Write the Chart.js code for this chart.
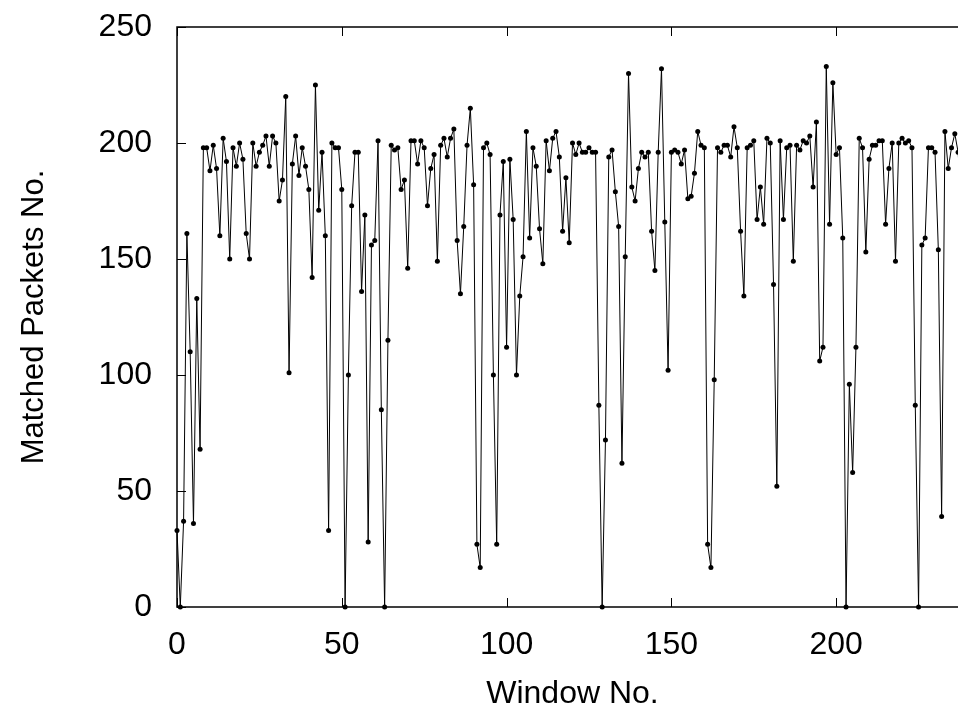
<!DOCTYPE html>
<html>
<head>
<meta charset="utf-8">
<script src="https://cdn.jsdelivr.net/npm/chart.js@4.4.1/dist/chart.umd.min.js"></script>
<style>
  html, body { margin: 0; padding: 0; background: #fff; overflow: hidden; }
  /* the plot runs a little past the right edge of the window, as in the picture */
  #wrap { position: absolute; left: 0; top: 0; width: 980px; height: 715px; }
</style>
</head>
<body>
<div id="wrap"><canvas id="chart"></canvas></div>
<script>
// matched packets per window (window no. = position in the list)
var matchedPackets = [
  33, 0, 37, 161, 110, 36, 133, 68, 198, 198, 188, 199, 189, 160, 202, 192, 150, 198, 190, 200,
  193, 161, 150, 200, 190, 196, 199, 203, 190, 203, 200, 175, 184, 220, 101, 191, 203, 186, 198, 190,
  180, 142, 225, 171, 196, 160, 33, 200, 198, 198, 180, 0, 100, 173, 196, 196, 136, 169, 28, 156,
  158, 201, 85, 0, 115, 199, 197, 198, 180, 184, 146, 201, 201, 191, 201, 198, 173, 189, 195, 149,
  199, 202, 194, 202, 206, 158, 135, 164, 199, 215, 182, 27, 17, 198, 200, 195, 100, 27, 169, 192,
  112, 193, 167, 100, 134, 151, 205, 159, 198, 190, 163, 148, 201, 188, 202, 205, 194, 162, 185, 157,
  200, 195, 200, 196, 196, 198, 196, 196, 87, 0, 72, 194, 197, 179, 164, 62, 151, 230, 181, 175,
  189, 196, 194, 196, 162, 145, 196, 232, 166, 102, 196, 197, 196, 191, 197, 176, 177, 187, 205, 199,
  198, 27, 17, 98, 198, 196, 199, 199, 194, 207, 198, 162, 134, 198, 199, 201, 167, 181, 165, 202,
  200, 139, 52, 201, 167, 198, 199, 149, 199, 197, 201, 200, 203, 181, 209, 106, 112, 233, 165, 226,
  195, 198, 159, 0, 96, 58, 112, 202, 198, 153, 193, 199, 199, 201, 201, 165, 189, 200, 149, 200,
  202, 200, 201, 198, 87, 0, 156, 159, 198, 198, 196, 154, 39, 205, 189, 198, 204, 196, 175
];

var xTicks = [0, 50, 100, 150, 200];
var yTicks = [0, 50, 100, 150, 200, 250];
var xRange = [0, 240];
var yRange = [0, 250];

var points = matchedPackets.map(function (v, i) { return { x: i, y: v }; });

var FONT = "'Liberation Sans', Arial, Helvetica, sans-serif";

// border and inward tick marks on all four sides
var frame = {
  id: 'frame',
  beforeDatasetsDraw: function (chart) {
    var ctx = chart.ctx, a = chart.chartArea;
    var sx = chart.scales.x, sy = chart.scales.y;
    ctx.save();
    ctx.strokeStyle = '#000';
    ctx.lineWidth = 1;
    ctx.beginPath();
    xTicks.forEach(function (t) {
      var px = Math.round(sx.getPixelForValue(t)) + 0.5;
      ctx.moveTo(px, a.bottom); ctx.lineTo(px, a.bottom - 9);
      ctx.moveTo(px, a.top); ctx.lineTo(px, a.top + 9);
    });
    yTicks.forEach(function (t) {
      var py = Math.round(sy.getPixelForValue(t)) + 0.5;
      ctx.moveTo(a.left, py); ctx.lineTo(a.left + 9, py);
      ctx.moveTo(a.right, py); ctx.lineTo(a.right - 9, py);
    });
    ctx.stroke();
    ctx.lineWidth = 1.5;
    ctx.strokeRect(a.left, a.top, a.right - a.left, a.bottom - a.top);
    ctx.restore();
  }
};

new Chart(document.getElementById('chart'), {
  type: 'line',
  data: {
    datasets: [{
      data: points,
      borderColor: '#000',
      borderWidth: 1,
      backgroundColor: '#000',
      pointRadius: 2.5,
      pointBorderWidth: 0,
      pointBackgroundColor: '#000',
      tension: 0,
      clip: false
    }]
  },
  options: {
    responsive: true,
    maintainAspectRatio: false,
    animation: false,
    layout: { padding: { top: 27, right: 12, bottom: 0, left: 0 } },
    plugins: { legend: { display: false }, tooltip: { enabled: false } },
    scales: {
      x: {
        type: 'linear',
        min: xRange[0],
        max: xRange[1],
        afterBuildTicks: function (s) { s.ticks = xTicks.map(function (v) { return { value: v }; }); },
        afterFit: function (s) { s.height = 108; s.paddingLeft = 0; s.paddingRight = 0; },
        grid: { display: false },
        border: { display: false },
        ticks: { color: '#000', font: { family: FONT, size: 32 }, padding: 11, maxRotation: 0 },
        title: { display: true, text: 'Window No.', color: '#000', font: { family: FONT, size: 32 }, padding: { top: 0, bottom: 2 } }
      },
      y: {
        min: yRange[0],
        max: yRange[1],
        afterBuildTicks: function (s) { s.ticks = yTicks.map(function (v) { return { value: v }; }); },
        afterFit: function (s) { s.width = 177; s.paddingTop = 0; s.paddingBottom = 0; },
        grid: { display: false },
        border: { display: false },
        ticks: { color: '#000', font: { family: FONT, size: 32 }, padding: 17 },
        title: { display: true, text: 'Matched Packets No.', color: '#000', font: { family: FONT, size: 31 }, padding: { top: 16, bottom: 0 } }
      }
    }
  },
  plugins: [frame]
});
</script>
</body>
</html>
